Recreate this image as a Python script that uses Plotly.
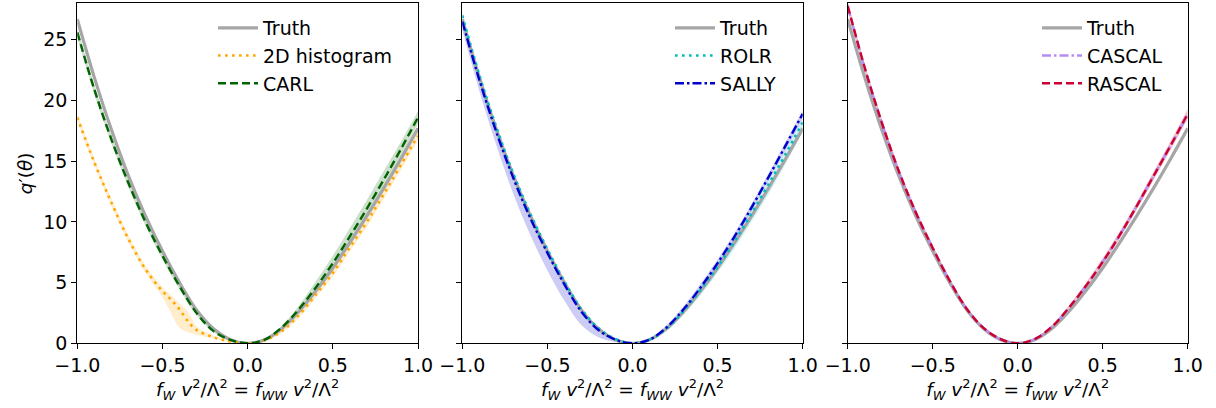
import plotly.graph_objects as go
from plotly.subplots import make_subplots

# theta grid (f_W v^2 / Lambda^2 = f_WW v^2 / Lambda^2)
theta = [-1.0, -0.9, -0.8, -0.7, -0.6, -0.5, -0.4, -0.3, -0.2, -0.1, 0.0,
         0.1, 0.2, 0.3, 0.4, 0.5, 0.6, 0.7, 0.8, 0.9, 1.0]

truth = [26.7, 21.9, 17.6, 13.8, 10.5, 7.6, 5.0, 2.75, 1.2, 0.3, 0.0,
         0.3, 1.2, 2.6, 4.3, 6.2, 8.3, 10.5, 12.8, 15.2, 17.7]

# 2D histogram has a finer grid where its curve bends
theta_hist = [-1.0, -0.9, -0.8, -0.7, -0.6, -0.5, -0.45, -0.4, -0.35, -0.3, -0.2, -0.1, 0.0,
              0.1, 0.2, 0.3, 0.4, 0.5, 0.6, 0.7, 0.8, 0.9, 1.0]
hist2d = [18.6, 14.9, 11.6, 8.6, 6.1, 4.3, 3.6, 2.8, 1.8, 1.1, 0.5, 0.15, 0.0,
          0.25, 1.0, 2.3, 4.0, 5.8, 7.9, 10.0, 12.3, 14.7, 17.1]
hist2d_lo = [18.3, 14.6, 11.3, 8.3, 5.8, 3.8, 2.5, 1.3, 0.9, 0.7, 0.4, 0.1, 0.0,
             0.15, 0.85, 2.1, 3.75, 5.5, 7.55, 9.6, 11.9, 14.3, 16.7]
hist2d_hi = [18.9, 15.2, 11.9, 8.9, 6.4, 4.6, 3.95, 3.3, 2.6, 1.4, 0.65, 0.2, 0.0,
             0.35, 1.15, 2.5, 4.25, 6.1, 8.25, 10.4, 12.7, 15.1, 17.5]

carl = [25.6, 20.9, 16.8, 13.2, 10.0, 7.2, 4.7, 2.5, 1.0, 0.28, 0.0,
        0.3, 1.3, 2.8, 4.6, 6.6, 8.8, 11.1, 13.5, 16.0, 18.6]
carl_lo = [25.2, 20.5, 16.45, 12.85, 9.7, 6.9, 4.45, 2.3, 0.9, 0.23, 0.0,
           0.25, 1.15, 2.5, 4.1, 6.0, 8.1, 10.4, 12.8, 15.4, 18.1]
carl_hi = [26.0, 21.3, 17.15, 13.55, 10.3, 7.5, 4.95, 2.7, 1.1, 0.33, 0.0,
           0.35, 1.45, 3.1, 5.1, 7.2, 9.5, 11.8, 14.2, 16.6, 19.1]

rolr = [27.0, 22.1, 17.8, 13.95, 10.65, 7.75, 5.1, 2.8, 1.25, 0.35, 0.0,
        0.3, 1.2, 2.65, 4.4, 6.3, 8.4, 10.7, 13.1, 15.6, 18.2]
rolr_lo = [26.7, 21.8, 17.55, 13.7, 10.4, 7.55, 4.95, 2.7, 1.2, 0.3, 0.0,
           0.25, 1.05, 2.35, 3.95, 5.8, 7.8, 10.0, 12.3, 14.8, 17.4]
rolr_hi = [27.3, 22.4, 18.05, 14.2, 10.9, 7.95, 5.25, 2.9, 1.3, 0.4, 0.0,
           0.35, 1.3, 2.85, 4.7, 6.6, 8.7, 11.0, 13.4, 15.9, 18.5]

sally = [26.5, 21.7, 17.4, 13.6, 10.3, 7.45, 4.85, 2.6, 1.1, 0.3, 0.0,
         0.3, 1.3, 2.8, 4.6, 6.6, 8.8, 11.2, 13.7, 16.3, 18.9]
sally_lo = [25.8, 20.8, 16.3, 12.3, 8.9, 6.0, 3.5, 1.5, 0.5, 0.1, 0.0,
            0.2, 1.1, 2.55, 4.3, 6.3, 8.5, 10.9, 13.4, 15.9, 18.5]
sally_hi = [26.8, 22.0, 17.7, 13.9, 10.6, 7.75, 5.1, 2.8, 1.25, 0.4, 0.0,
            0.4, 1.5, 3.05, 4.9, 6.9, 9.1, 11.5, 14.0, 16.6, 19.2]

cascal = [27.7, 22.65, 18.15, 14.15, 10.8, 7.85, 5.15, 2.85, 1.25, 0.35, 0.0,
          0.35, 1.35, 2.9, 4.7, 6.7, 8.9, 11.3, 13.8, 16.3, 18.8]
rascal = [27.8, 22.7, 18.2, 14.2, 10.8, 7.85, 5.15, 2.85, 1.25, 0.35, 0.0,
          0.35, 1.35, 2.9, 4.7, 6.7, 8.9, 11.3, 13.8, 16.3, 18.9]
rascal_lo = [27.4, 22.35, 17.85, 13.9, 10.55, 7.6, 4.95, 2.7, 1.15, 0.3, 0.0,
             0.3, 1.2, 2.7, 4.45, 6.4, 8.6, 11.0, 13.45, 15.95, 18.5]
rascal_hi = [28.2, 23.05, 18.55, 14.5, 11.05, 8.1, 5.35, 3.0, 1.35, 0.4, 0.0,
             0.4, 1.5, 3.1, 4.95, 7.0, 9.2, 11.6, 14.15, 16.65, 19.3]

x_ticks = [-1.0, -0.5, 0.0, 0.5, 1.0]
x_ticktext = ["−1.0", "−0.5", "0.0", "0.5", "1.0"]
y_ticks = [0, 5, 10, 15, 20, 25]

FONT = "DejaVu Sans"
GREY = "#a6a6a6"

fig = make_subplots(rows=1, cols=3, shared_yaxes=True)


def band(x, lo, hi, color, col):
    fig.add_trace(go.Scatter(x=x, y=lo, mode="lines", line=dict(width=0, shape="spline"),
                             showlegend=False, hoverinfo="skip"), row=1, col=col)
    fig.add_trace(go.Scatter(x=x, y=hi, mode="lines", line=dict(width=0, shape="spline"),
                             fill="tonexty", fillcolor=color, showlegend=False,
                             hoverinfo="skip"), row=1, col=col)


def curve(x, y, name, color, dash, col, legend, width=2.4):
    fig.add_trace(go.Scatter(x=x, y=y, mode="lines", name=name, legend=legend,
                             legendgroup=legend + name,
                             line=dict(color=color, width=width, dash=dash, shape="spline")),
                  row=1, col=col)


# panel 1
band(theta_hist, hist2d_lo, hist2d_hi, "rgba(255,165,0,0.2)", 1)
band(theta, carl_lo, carl_hi, "rgba(0,100,0,0.2)", 1)
curve(theta, truth, "Truth", GREY, "solid", 1, "legend", 3.2)
curve(theta_hist, hist2d, "2D histogram", "#ffa500", "2.6px,4.4px", 1, "legend", 2.6)
curve(theta, carl, "CARL", "#006400", "8px,4px", 1, "legend")

# panel 2
band(theta, rolr_lo, rolr_hi, "rgba(0,191,191,0.18)", 2)
band(theta, sally_lo, sally_hi, "rgba(0,0,205,0.2)", 2)
curve(theta, truth, "Truth", GREY, "solid", 2, "legend2", 3.2)
curve(theta, rolr, "ROLR", "#00bfbf", "2.6px,4.4px", 2, "legend2", 2.6)
curve(theta, sally, "SALLY", "#0000cd", "9px,3px,2.5px,3px", 2, "legend2")

# panel 3
band(theta, rascal_lo, rascal_hi, "rgba(204,0,51,0.25)", 3)
curve(theta, truth, "Truth", GREY, "solid", 3, "legend3", 3.2)
curve(theta, cascal, "CASCAL", "#b48cf5", "9px,3px,2.5px,3px", 3, "legend3")
curve(theta, rascal, "RASCAL", "#cc0033", "8px,4px", 3, "legend3")

W, H = 1216, 408
x_dom = [(77.3, 418.0), (462.3, 802.7), (847.7, 1187.7)]
y_dom = [(H - 343.3) / H, (H - 3.3) / H]

xtitle = ("<i>f</i><sub><i>W</i></sub> <i>v</i><sup>2</sup>/Λ<sup>2</sup> = "
          "<i>f</i><sub><i>WW</i></sub> <i>v</i><sup>2</sup>/Λ<sup>2</sup>")

axis_style = dict(showline=True, linecolor="black", linewidth=1.1, mirror=True,
                  ticks="outside", ticklen=5, tickwidth=1.1, tickcolor="black",
                  showgrid=False, zeroline=False, automargin=False,
                  tickfont=dict(family=FONT, size=19, color="black"))

for i, (a, b) in enumerate(x_dom, start=1):
    fig.update_xaxes(domain=[a / W, b / W], range=[-1.0, 1.0], tickvals=x_ticks,
                     ticktext=x_ticktext,
                     title=dict(text=xtitle, font=dict(family=FONT, size=18.5, color="black"),
                                standoff=1),
                     **axis_style, row=1, col=i)
    fig.update_yaxes(domain=list(y_dom), range=[0, 28], tickvals=y_ticks,
                     showticklabels=(i == 1), **axis_style, row=1, col=i)

fig.update_yaxes(title=dict(text="<i>q</i>′(<i>θ</i>)", font=dict(family=FONT, size=18.5, color="black"),
                            standoff=5), row=1, col=1)

leg = dict(xanchor="left", yanchor="top", bgcolor="rgba(0,0,0,0)", itemwidth=40,
           traceorder="grouped", tracegroupgap=0,
           font=dict(family=FONT, size=19, color="black"))
fig.update_layout(
    width=W, height=H,
    margin=dict(l=0, r=0, t=0, b=0),
    paper_bgcolor="white", plot_bgcolor="white",
    legend=dict(x=213 / W, y=1 - 9 / H, **leg),
    legend2=dict(x=670 / W, y=1 - 9 / H, **leg),
    legend3=dict(x=1037 / W, y=1 - 9 / H, **leg),
)

fig.write_html("out.html", config={"displayModeBar": False},
               post_script="document.body.style.margin = '0';")
